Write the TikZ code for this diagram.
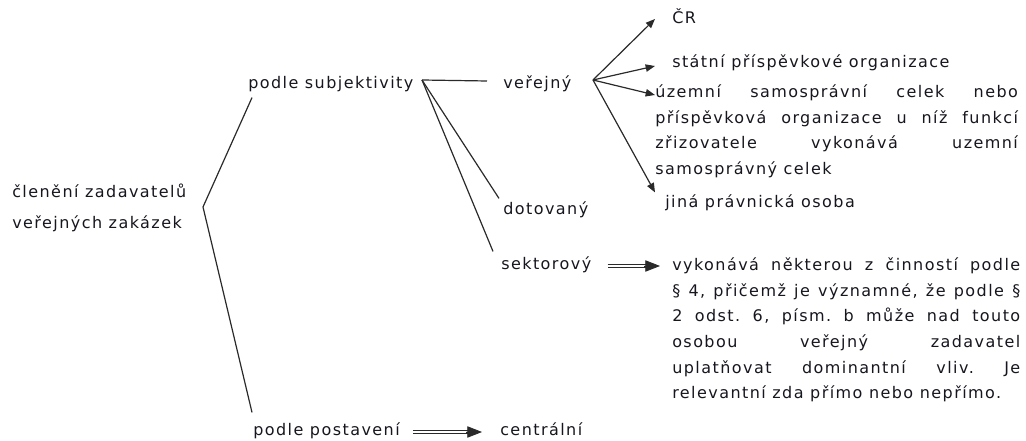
\documentclass[tikz,border=0pt]{standalone}
\usepackage{fontspec}
\setmainfont{DejaVu Sans}[LetterSpace=9]
\usetikzlibrary{arrows.meta,calc}
\definecolor{inkdark}{HTML}{16161F}
\definecolor{linegray}{HTML}{2A2A2A}

\tikzset{
  lbl/.style={anchor=west, inner sep=0pt, text height=8.5pt, text depth=2.5pt, text=inkdark},
  para/.style={anchor=north west, inner sep=0pt, align=justify, text=inkdark},
  ln/.style={draw=linegray, line width=0.9pt},
  arr/.style={ln, -{Triangle[length=7pt,width=5.5pt]}},
  dblhead/.style={draw=linegray, fill=linegray, line width=0.6pt, -{Triangle[length=11pt,width=8.5pt]}},
  dblshaft/.style={draw=linegray, double=white, double distance=1.7pt, line width=0.85pt, shorten >=9pt}
}

\begin{document}
\begin{tikzpicture}[x=0.75pt,y=-0.75pt,font=\fontsize{12}{19.3}\selectfont]
\useasboundingbox (0,0) rectangle (1026,441);

\node[anchor=west, inner sep=0pt, align=left, text=inkdark, font=\fontsize{12}{23}\selectfont] (root) at (12,208) {členění zadavatelů\\veřejných zakázek};

\node[lbl] (subj) at (248,85) {podle subjektivity};
\node[lbl] (post) at (253,432) {podle postavení};
\node[lbl] (ver) at (503,85) {veřejný};
\node[lbl] (dot) at (503,211) {dotovaný};
\node[lbl] (sek) at (501,266) {sektorový};
\node[lbl] (centr) at (500,432) {centrální};

\node[lbl] (cr) at (672,20) {ČR};
\node[lbl] (stat) at (672,64) {státní příspěvkové organizace};
\node[para, text width=272pt] (uzem) at (655,79) {\frenchspacing\tolerance=10000\hyphenpenalty=10000\strut územní samosprávní celek nebo\linebreak příspěvková organizace u níž funkcí\linebreak zřizovatele vykonává uzemní\linebreak samosprávný celek};
\node[lbl] (jina) at (665,204) {jiná právnická osoba};
\node[para, text width=261pt] (vyk) at (672,252) {\frenchspacing\tolerance=10000\hyphenpenalty=10000\strut vykonává některou z činností podle\linebreak § 4, přičemž je významné, že podle §\linebreak 2 odst. 6, písm. b může nad touto\linebreak osobou veřejný zadavatel\linebreak uplatňovat dominantní vliv. Je\linebreak relevantní zda přímo nebo nepřímo.};

\coordinate (apex) at (203,207);
\coordinate (fork) at (422,80);
\coordinate (vsrc) at (593,80);
\coordinate (sektip) at ($(vyk.north west)+(-12,14)$);
\coordinate (centip) at ($(centr.west)+(-18,0)$);

\draw[ln] ($(subj.south west)+(4,5)$) -- (apex) -- ($(post.north west)+(-1,-12)$);
\draw[ln] (fork) -- ($(ver.west)+(-16,-4)$);
\draw[ln] (fork) -- ($(dot.north west)+(-4,-5)$);
\draw[ln] (fork) -- ($(sek.north west)+(-8,-7)$);

\draw[arr] (vsrc) -- ($(cr.west)+(-17,-1)$);
\draw[arr] (vsrc) -- ($(stat.west)+(-17,2)$);
\draw[arr] (vsrc) -- ($(uzem.north west)+(0,16)$);
\draw[arr] (vsrc) -- ($(jina.north west)+(-10,-4)$);

\draw[dblshaft] ($(sek.east)+(16,0)$) -- (sektip);
\draw[dblhead] ($(sektip)+(-16,0)$) -- (sektip);
\draw[dblshaft] ($(post.east)+(13,0)$) -- (centip);
\draw[dblhead] ($(centip)+(-16,0)$) -- (centip);
\end{tikzpicture}
\end{document}
